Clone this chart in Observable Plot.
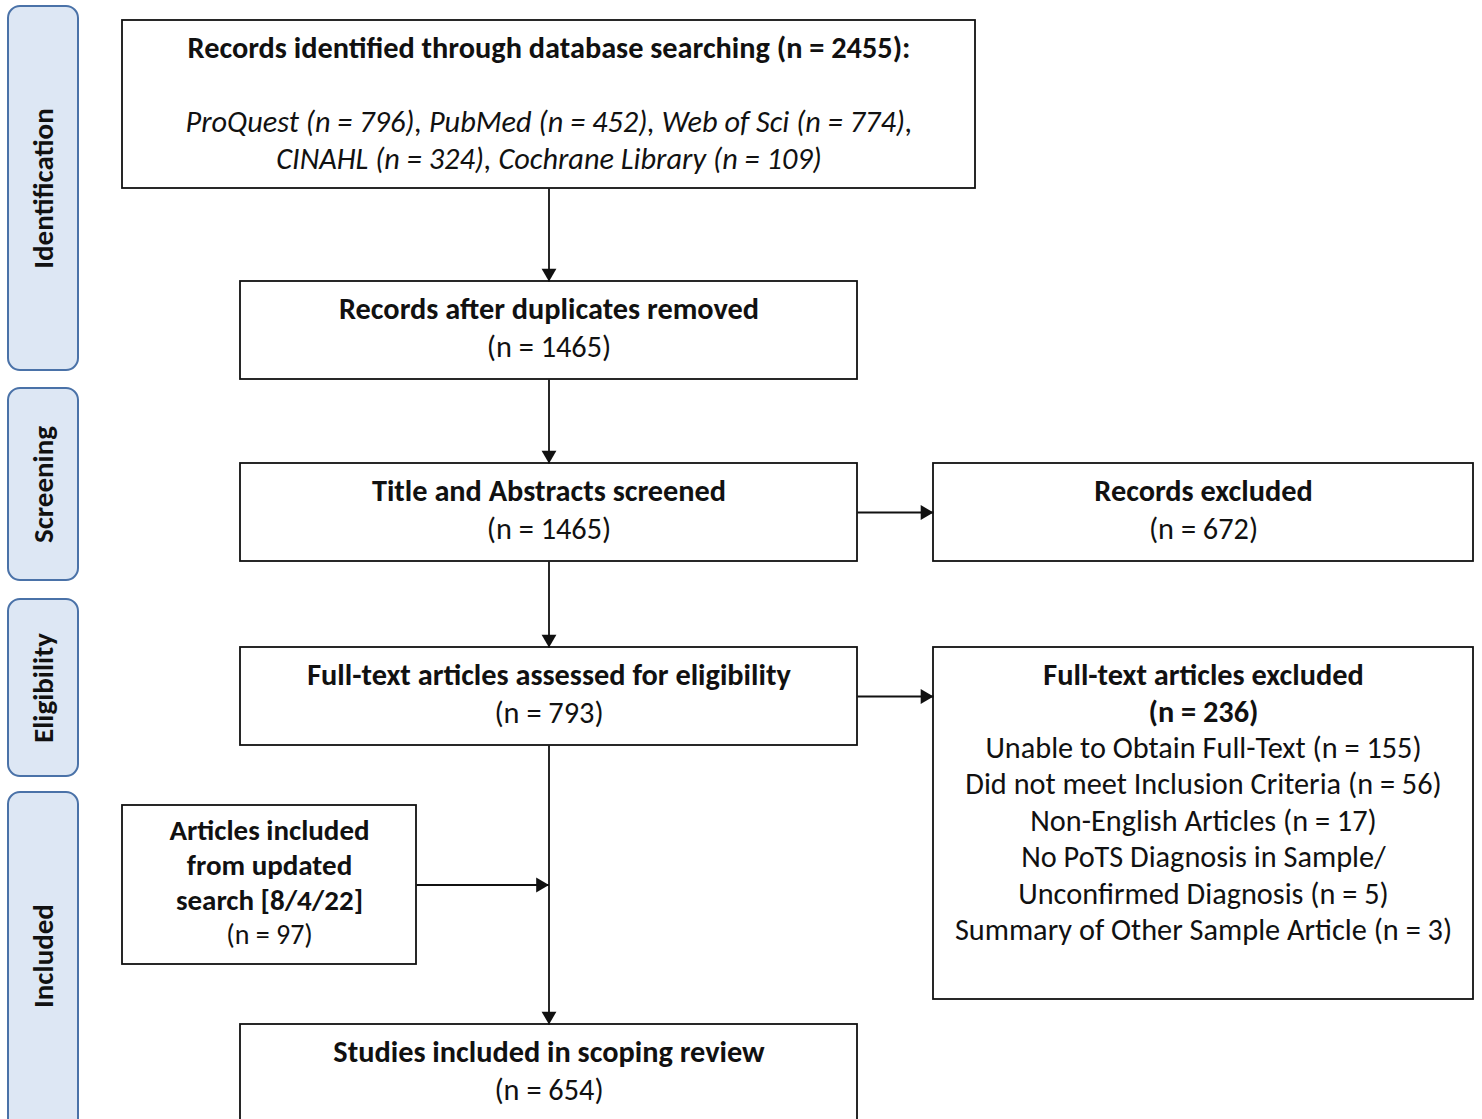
<!DOCTYPE html>
<html>
<head>
<meta charset="utf-8">
<script src="https://cdn.jsdelivr.net/npm/d3@7"></script>
<script src="https://cdn.jsdelivr.net/npm/@observablehq/plot@0.6"></script>
<style>
  html, body { margin: 0; padding: 0; background: #ffffff; }
  svg { display: block; }
</style>
</head>
<body>
<div id="chart"></div>
<script>
// ---------- DATA ----------
const stages = ["Identification", "Screening", "Eligibility", "Included"];

const mainSteps = [
  "Records identified through database searching",
  "Records after duplicates removed",
  "Title and Abstracts screened",
  "Full-text articles assessed for eligibility",
  "Studies included in scoping review"
];
const mainCounts = [2455, 1465, 1465, 793, 654];

const databases = ["ProQuest", "PubMed", "Web of Sci", "CINAHL", "Cochrane Library"];
const databaseCounts = [796, 452, 774, 324, 109];

const screenExcludedLabel = "Records excluded";
const screenExcludedCount = 672;

const fullTextExcludedLabel = "Full-text articles excluded";
const fullTextExcludedCount = 236;
const exclusionReasons = [
  "Unable to Obtain Full-Text",
  "Did not meet Inclusion Criteria",
  "Non-English Articles",
  "No PoTS Diagnosis in Sample/|Unconfirmed Diagnosis",
  "Summary of Other Sample Article"
];
const exclusionCounts = [155, 56, 17, 5, 3];

const updateLines = ["Articles included", "from updated", "search [8/4/22]"];
const updateCount = 97;

// ---------- LAYOUT (pixel frame of the figure) ----------
const W = 1482, H = 1119;
const stageFrames = [
  {x1: 8, x2: 78, y1: 6, y2: 370},
  {x1: 8, x2: 78, y1: 388, y2: 580},
  {x1: 8, x2: 78, y1: 599, y2: 776},
  {x1: 8, x2: 78, y1: 792, y2: 1140}
];
const frames = {
  identified: {x1: 122, x2: 975, y1: 20, y2: 188, top: 48, lh: 37},
  dedup:      {x1: 240, x2: 857, y1: 281, y2: 379, top: 309, lh: 38},
  screened:   {x1: 240, x2: 857, y1: 463, y2: 561, top: 491, lh: 38},
  screenExcl: {x1: 933, x2: 1473, y1: 463, y2: 561, top: 491, lh: 38},
  assessed:   {x1: 240, x2: 857, y1: 647, y2: 745, top: 675, lh: 38},
  ftExcl:     {x1: 933, x2: 1473, y1: 647, y2: 999, top: 675, lh: 36.4},
  update:     {x1: 122, x2: 416, y1: 805, y2: 964, top: 830, lh: 35},
  included:   {x1: 240, x2: 857, y1: 1024, y2: 1140, top: 1052, lh: 38}
};

// ---------- BUILD TEXT LINES ----------
const fmtN = n => `(n = ${n})`;
const lines = [];
function add(id, items) {
  items.forEach((it, i) => { if (it) lines.push({id, i, ...it}); });
}
add("identified", [
  {text: `${mainSteps[0]} ${fmtN(mainCounts[0])}:`, w: "bold"},
  null,
  {text: databases.slice(0, 3).map((d, k) => `${d} ${fmtN(databaseCounts[k])}`).join(", ") + ",", it: true},
  {text: databases.slice(3).map((d, k) => `${d} ${fmtN(databaseCounts[k + 3])}`).join(", "), it: true}
]);
add("dedup", [{text: mainSteps[1], w: "bold"}, {text: fmtN(mainCounts[1])}]);
add("screened", [{text: mainSteps[2], w: "bold"}, {text: fmtN(mainCounts[2])}]);
add("screenExcl", [{text: screenExcludedLabel, w: "bold"}, {text: fmtN(screenExcludedCount)}]);
add("assessed", [{text: mainSteps[3], w: "bold"}, {text: fmtN(mainCounts[3])}]);
const reasonLines = [];
exclusionReasons.forEach((r, k) => {
  const parts = r.split("|");
  parts.forEach((p, j) => reasonLines.push({text: j === parts.length - 1 ? `${p} ${fmtN(exclusionCounts[k])}` : p}));
});
add("ftExcl", [{text: fullTextExcludedLabel, w: "bold"}, {text: fmtN(fullTextExcludedCount), w: "bold"}, ...reasonLines]);
add("update", [...updateLines.map(t => ({text: t, w: "bold", small: true})), {text: fmtN(updateCount), small: true}]);
add("included", [{text: mainSteps[4], w: "bold"}, {text: fmtN(mainCounts[4])}]);

lines.forEach(d => {
  const f = frames[d.id];
  d.x = (f.x1 + f.x2) / 2;
  d.y = f.top + d.i * f.lh;
});

// ---------- CONNECTORS ----------
const cx = id => (frames[id].x1 + frames[id].x2) / 2;
const cy = id => (frames[id].y1 + frames[id].y2) / 2;
const mainX = cx("dedup");
const links = [
  {x1: mainX, y1: frames.identified.y2, x2: mainX, y2: frames.dedup.y1, dir: "down"},
  {x1: mainX, y1: frames.dedup.y2, x2: mainX, y2: frames.screened.y1, dir: "down"},
  {x1: mainX, y1: frames.screened.y2, x2: mainX, y2: frames.assessed.y1, dir: "down"},
  {x1: mainX, y1: frames.assessed.y2, x2: mainX, y2: frames.included.y1, dir: "down"},
  {x1: frames.screened.x2, y1: cy("screened"), x2: frames.screenExcl.x1, y2: cy("screened"), dir: "right"},
  {x1: frames.assessed.x2, y1: cy("assessed"), x2: frames.ftExcl.x1, y2: cy("assessed"), dir: "right"},
  {x1: frames.update.x2, y1: cy("update"), x2: mainX, y2: cy("update"), dir: "right"}
];
const headR = 5.5;
const k = Math.sqrt(Math.PI * headR * headR / (3 * Math.sqrt(3)));
const heads = links.map(l => l.dir === "down"
  ? {x: l.x2, y: l.y2 - 2 * k, rot: 180}
  : {x: l.x2 - 2 * k, y: l.y2, rot: 90});

const boxes = Object.values(frames);
const font = "Carlito, Lato, 'Open Sans', sans-serif";

const plot = Plot.plot({
  width: W,
  height: H,
  margin: 0,
  x: {domain: [0, W], range: [0, W], axis: null},
  y: {domain: [0, H], range: [0, H], axis: null},
  style: {fontFamily: font, background: "#ffffff", color: "#111"},
  marks: [
    Plot.rect(stageFrames, {x1: "x1", x2: "x2", y1: "y1", y2: "y2", rx: 12, ry: 12, fill: "#dde7f4", stroke: "#4a72a8", strokeWidth: 2}),
    Plot.text(stageFrames, {x: d => (d.x1 + d.x2) / 2, y: (d, i) => i === 3 ? (d.y1 + 1119) / 2 : (d.y1 + d.y2) / 2, text: (d, i) => stages[i], rotate: -90, fontSize: 29, fontWeight: "bold", fill: "#111"}),
    Plot.rect(boxes, {x1: "x1", x2: "x2", y1: "y1", y2: "y2", fill: "#ffffff", stroke: "#111", strokeWidth: 1.8}),
    Plot.link(links, {x1: "x1", y1: "y1", x2: "x2", y2: "y2", stroke: "#111", strokeWidth: 1.8}),
    Plot.dot(heads, {x: "x", y: "y", rotate: "rot", symbol: "triangle", r: headR, fill: "#111", stroke: null}),
    Plot.text(lines.filter(d => d.w === "bold" && !d.small), {x: "x", y: "y", text: "text", fontSize: 30.3, fontWeight: "bold", fill: "#111"}),
    Plot.text(lines.filter(d => d.w === "bold" && d.small), {x: "x", y: "y", text: "text", fontSize: 29, fontWeight: "bold", fill: "#111"}),
    Plot.text(lines.filter(d => !d.w && !d.it && !d.small), {x: "x", y: "y", text: "text", fontSize: 30.3, fill: "#111"}),
    Plot.text(lines.filter(d => !d.w && d.small), {x: "x", y: "y", text: "text", fontSize: 28, fill: "#111"}),
    Plot.text(lines.filter(d => d.it), {x: "x", y: "y", text: "text", fontSize: 30.3, fontStyle: "italic", fill: "#111"})
  ]
});
document.getElementById("chart").appendChild(plot);
</script>
</body>
</html>
